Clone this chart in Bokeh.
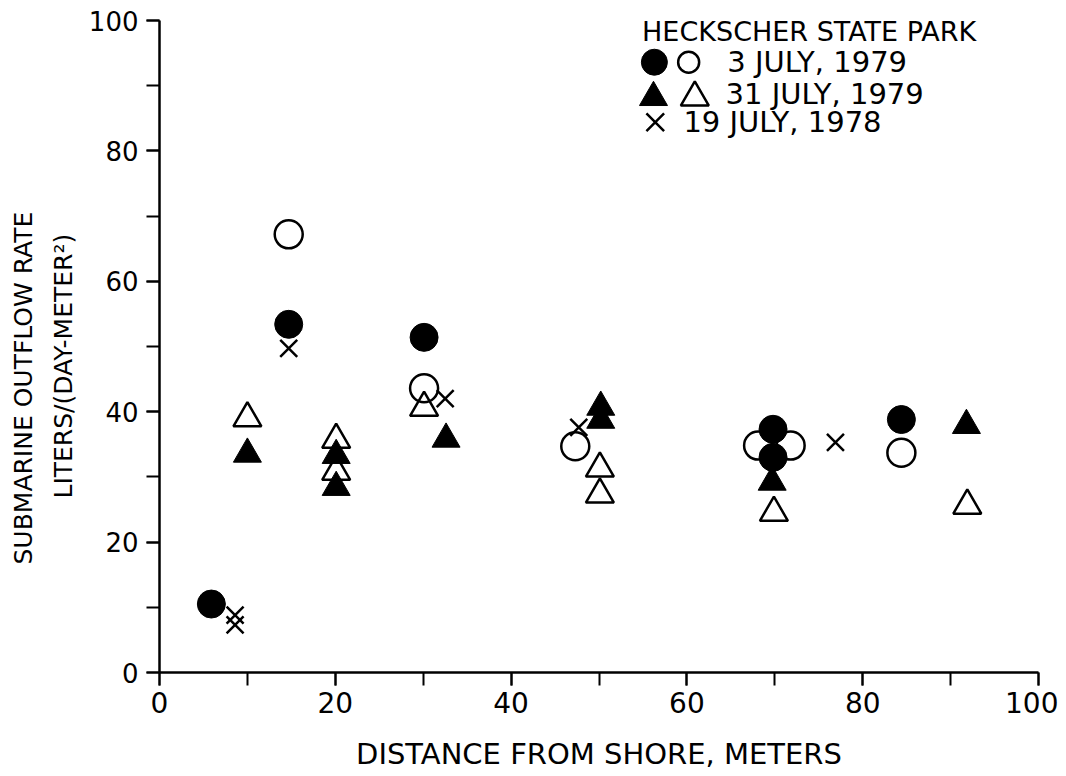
from bokeh.plotting import figure
from bokeh.models import Range1d, SingleIntervalTicker, Label, Title
from bokeh.embed import file_html
from bokeh.resources import INLINE

# ---------------- data ----------------
jul3_1979_filled_x = [5.9, 14.7, 30.1, 69.8, 69.8, 84.4]
jul3_1979_filled_y = [10.5, 53.4, 51.4, 37.3, 33.0, 38.8]

jul3_1979_open_x = [14.7, 30.1, 47.3, 68.1, 71.8, 84.4]
jul3_1979_open_y = [67.2, 43.6, 34.7, 34.8, 34.8, 33.7]

jul31_1979_filled_x = [10.0, 20.1, 20.1, 32.6, 50.2, 50.2, 69.7, 91.8]
jul31_1979_filled_y = [33.5, 33.3, 28.4, 35.8, 40.7, 38.7, 29.2, 37.9]

jul31_1979_open_x = [10.0, 20.1, 20.1, 30.1, 50.1, 50.1, 69.9, 91.9]
jul31_1979_open_y = [39.0, 35.7, 30.8, 40.6, 31.3, 27.3, 24.5, 25.6]

jul19_1978_x = [8.6, 8.6, 14.7, 32.5, 47.7, 76.9]
jul19_1978_y = [8.8, 7.3, 49.7, 42.0, 37.6, 35.3]

legend_title = "HECKSCHER STATE PARK"
legend_labels = ["3  JULY, 1979", "31 JULY, 1979", "19 JULY, 1978"]
x_title = "DISTANCE FROM SHORE, METERS"
y_title_1 = "SUBMARINE OUTFLOW RATE"
y_title_2 = "LITERS/(DAY-METER\u00b2)"

# ---------------- layout ----------------
FONT = "DejaVu Sans"
CIRC = 28
TRI = 28
XS = 24

p = figure(width=1058, height=768, frame_width=879, frame_height=652,
           min_border_left=159, min_border_right=20, min_border_top=20,
           min_border_bottom=96, output_backend="svg", toolbar_location=None,
           x_range=Range1d(0, 100), y_range=Range1d(0, 100))
p.outline_line_color = None
p.xgrid.visible = False
p.ygrid.visible = False
p.background_fill_color = "white"
p.border_fill_color = "white"

for ax, fs, so in ((p.xaxis[0], "28px", 6), (p.yaxis[0], "26px", 8)):
    ax.ticker = SingleIntervalTicker(interval=20, num_minor_ticks=2)
    ax.axis_line_width = 2.5
    ax.axis_line_color = "black"
    ax.major_tick_line_width = 2
    ax.minor_tick_line_width = 2
    ax.major_tick_line_color = "black"
    ax.minor_tick_line_color = "black"
    ax.major_tick_out = 13
    ax.major_tick_in = 0
    ax.minor_tick_out = 13
    ax.minor_tick_in = 0
    ax.major_label_text_font = FONT
    ax.major_label_text_font_size = fs
    ax.major_label_text_color = "black"
    ax.major_label_standoff = so

p.xaxis.axis_label = x_title
p.xaxis.axis_label_text_font = FONT
p.xaxis.axis_label_text_font_size = "29px"
p.xaxis.axis_label_text_font_style = "normal"
p.xaxis.axis_label_text_color = "black"
p.xaxis.axis_label_standoff = 21

# y-axis title: two lines, as titles in the left panel
t2 = Title(text=y_title_2, align="left", offset=174, standoff=15,
           text_font=FONT, text_font_size="25px", text_font_style="normal",
           text_color="black")
t1 = Title(text=y_title_1, align="left", offset=108, standoff=4,
           text_font=FONT, text_font_size="25px", text_font_style="normal",
           text_color="black")
p.add_layout(t2, "left")
p.add_layout(t1, "left")

# open markers first, filled on top
p.scatter(jul3_1979_open_x, jul3_1979_open_y, marker="circle", size=CIRC,
          fill_color=None, line_color="black", line_width=2.5)
p.scatter(jul31_1979_open_x, jul31_1979_open_y, marker="triangle", size=TRI,
          fill_color=None, line_color="black", line_width=2.5)
p.scatter(jul3_1979_filled_x, jul3_1979_filled_y, marker="circle", size=CIRC,
          fill_color="black", line_color="black", line_width=1)
p.scatter(jul31_1979_filled_x, jul31_1979_filled_y, marker="triangle", size=TRI,
          fill_color="black", line_color="black", line_width=1)
p.scatter(jul19_1978_x, jul19_1978_y, marker="x", size=XS,
          line_color="black", line_width=2.5)

# custom legend
p.add_layout(Label(x=54.9, y=98.3, text=legend_title, text_align="left",
                   text_baseline="middle", text_font=FONT,
                   text_font_size="27px", text_color="black"))
leg_rows_y = [93.6, 88.8, 84.4]
p.scatter([56.3], [leg_rows_y[0]], marker="circle", size=26,
          fill_color="black", line_color="black")
p.scatter([60.2], [leg_rows_y[0]], marker="circle", size=21,
          fill_color=None, line_color="black", line_width=2.5)
p.scatter([56.2], [leg_rows_y[1] - 0.6], marker="triangle", size=TRI,
          fill_color="black", line_color="black")
p.scatter([60.9], [leg_rows_y[1] - 0.6], marker="triangle", size=TRI,
          fill_color=None, line_color="black", line_width=2.5)
p.scatter([56.4], [leg_rows_y[2]], marker="x", size=25,
          line_color="black", line_width=2.5)
for txt, lx, ly in zip(legend_labels, [64.6, 64.4, 59.6], leg_rows_y):
    p.add_layout(Label(x=lx, y=ly, text=txt, text_align="left",
                       text_baseline="middle", text_font=FONT,
                       text_font_size="29px", text_color="black"))

open("out.html", "w").write(file_html(p, INLINE))
